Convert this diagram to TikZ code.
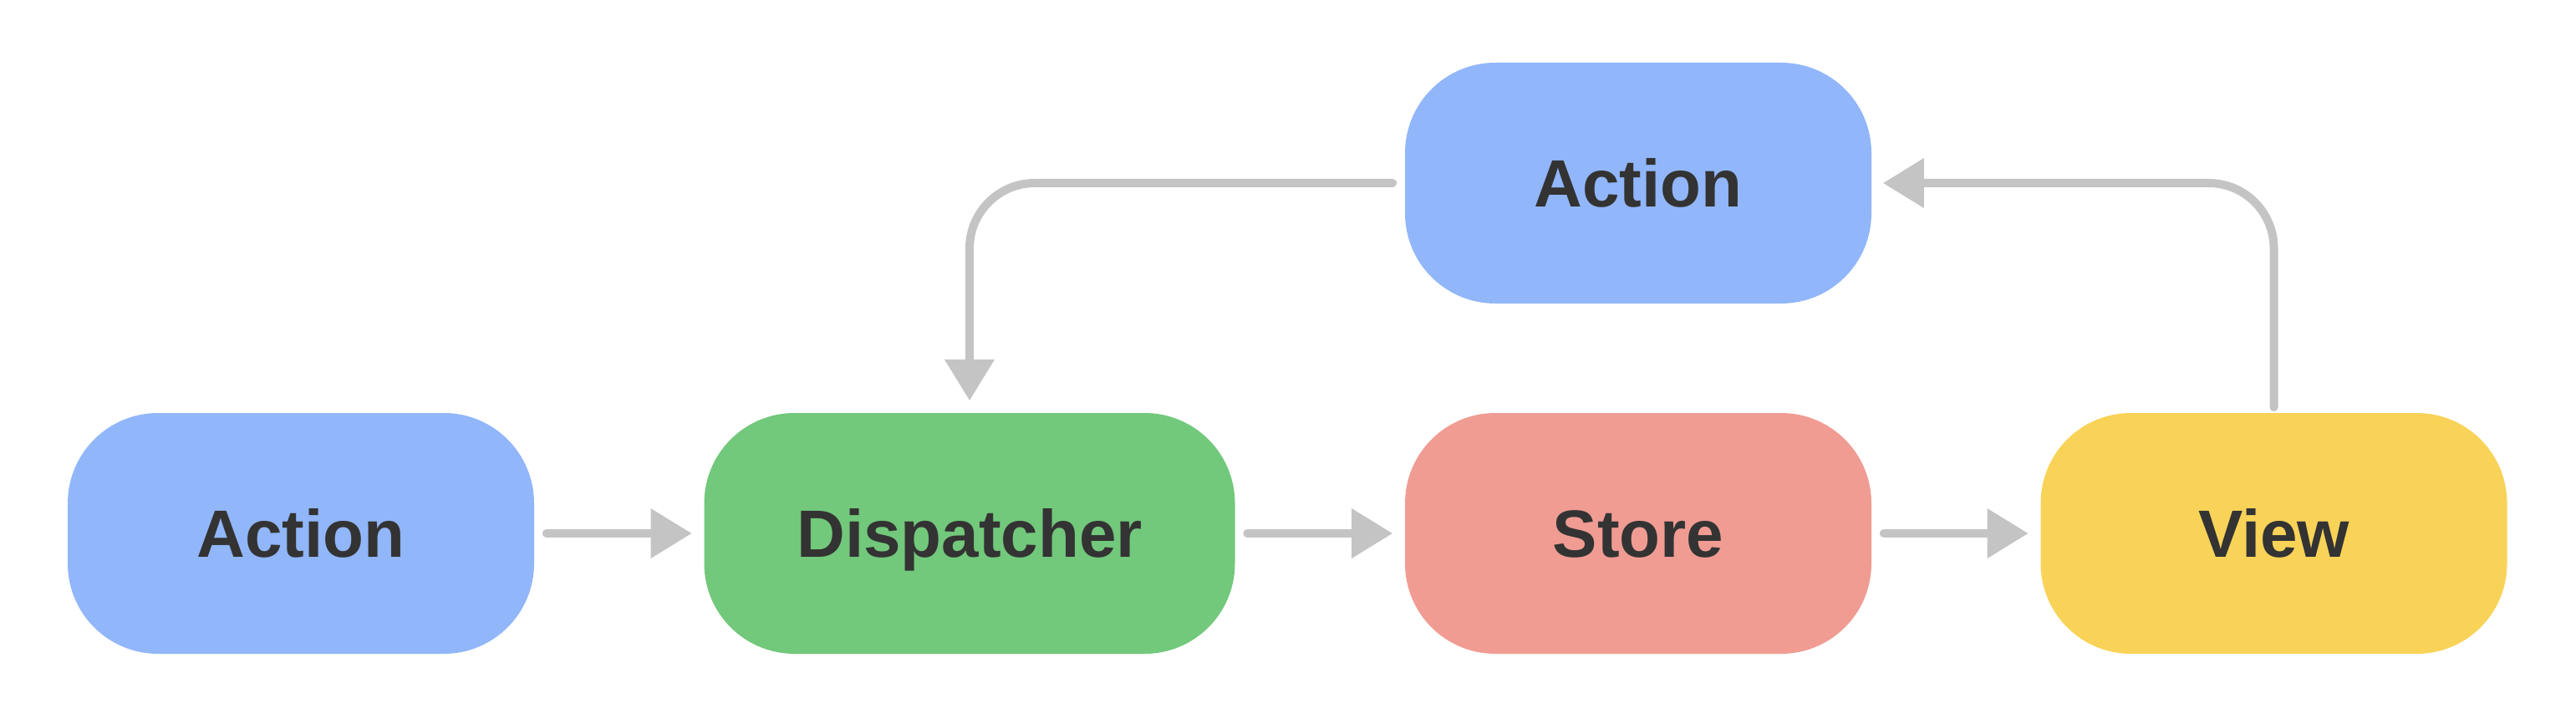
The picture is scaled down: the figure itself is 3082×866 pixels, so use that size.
\documentclass[tikz,border=0pt]{standalone}
\usepackage{fontspec}
\setmainfont{Liberation Sans}
\usetikzlibrary{shapes,arrows.meta,calc,positioning}
\definecolor{actionblue}{HTML}{91B6FA}
\definecolor{dispgreen}{HTML}{72C87B}
\definecolor{storered}{HTML}{F09C93}
\definecolor{viewyellow}{HTML}{F8D358}
\definecolor{linegray}{HTML}{C4C4C4}
\definecolor{textgray}{HTML}{333333}
\tikzstyle{line} = [draw=linegray, line width=2.5pt, line cap=round, -{Triangle[length=12.25pt,width=14.25pt]}, shorten <=3.5pt, shorten >=3.5pt]
\tikzstyle{block} = [rectangle, rounded corners=27pt, text centered, minimum width=139.5pt, minimum height=72pt, inner sep=0pt, text=textgray, font=\fontsize{20}{24}\selectfont\bfseries, text height=14.3pt, text depth=0pt]

\begin{document}
\begin{tikzpicture}[x=0.25pt, y=-0.25pt, node distance=200pt]
        \useasboundingbox (0,0) rectangle (3082,866);
        \node[block, fill=actionblue] (action) at (360,638) {Action};
        \node[block, fill=dispgreen, minimum width=158.75pt, right of=action] (dispatcher) {Dispatcher};
        \node[block, fill=storered, right of=dispatcher] (store) {Store};
        \node[block, fill=viewyellow, right of=store, node distance=190.125pt] (view) {View};
        \node[block, fill=actionblue, above of=store, node distance=104.75pt] (newaction) {Action};
        \path[line] (action) -- (dispatcher);
        \path[line] (dispatcher) -- (store);
        \path[line] (store) -- (view);
        \path[line, rounded corners=19.5pt] (newaction.west) -| (dispatcher.north);
        \path[line, rounded corners=19.5pt, shorten <=1.5pt, shorten >=3.25pt] (view.north) |- (newaction.east);
    \end{tikzpicture}
\end{document}
